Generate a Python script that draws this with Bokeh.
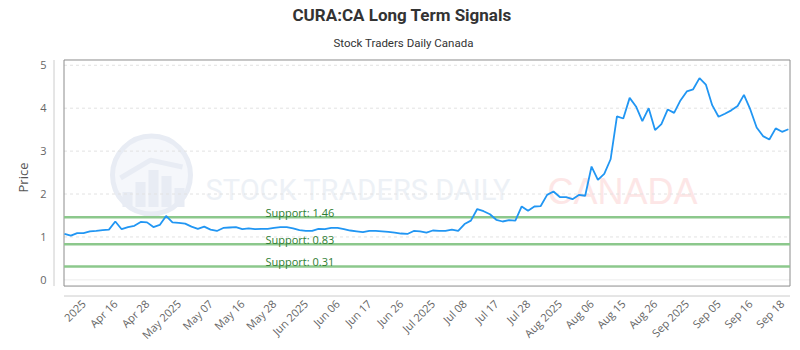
import math
from bokeh.plotting import figure
from bokeh.models import Range1d, FixedTicker, Title
from bokeh.core.properties import value
from bokeh.embed import file_html
from bokeh.resources import INLINE

# ---------------- data ----------------
title_text = "CURA:CA Long Term Signals"
subtitle_text = "Stock Traders Daily Canada"
y_axis_label = "Price"

prices = [
    1.07, 1.03, 1.09, 1.09, 1.13, 1.14, 1.16, 1.17, 1.36, 1.18,
    1.23, 1.26, 1.35, 1.34, 1.23, 1.28, 1.49, 1.34, 1.33, 1.31,
    1.24, 1.19, 1.24, 1.17, 1.14, 1.21, 1.22, 1.23, 1.18, 1.20,
    1.18, 1.19, 1.19, 1.21, 1.23, 1.23, 1.20, 1.16, 1.14, 1.14,
    1.19, 1.18, 1.21, 1.21, 1.18, 1.15, 1.13, 1.11, 1.14, 1.14,
    1.13, 1.12, 1.10, 1.08, 1.07, 1.14, 1.13, 1.10, 1.15, 1.14,
    1.14, 1.17, 1.14, 1.30, 1.38, 1.65, 1.60, 1.53, 1.40, 1.36,
    1.39, 1.38, 1.71, 1.61, 1.71, 1.72, 1.98, 2.06, 1.93, 1.93,
    1.88, 1.98, 1.96, 2.64, 2.33, 2.47, 2.81, 3.81, 3.76, 4.24,
    4.04, 3.70, 4.00, 3.49, 3.63, 3.97, 3.89, 4.18, 4.39, 4.44,
    4.70, 4.55, 4.07, 3.80, 3.87, 3.95, 4.05, 4.31, 3.97, 3.55,
    3.35, 3.27, 3.53, 3.45, 3.51,
]
day_index = list(range(len(prices)))

support_levels = [1.46, 0.83, 0.31]
support_labels = ["Support: 1.46", "Support: 0.83", "Support: 0.31"]

x_tick_labels = [
    "2025", "Apr 16", "Apr 28", "May 2025", "May 07", "May 16", "May 28",
    "Jun 2025", "Jun 06", "Jun 17", "Jun 26", "Jul 2025", "Jul 08", "Jul 17",
    "Jul 28", "Aug 2025", "Aug 06", "Aug 15", "Aug 26", "Sep 2025", "Sep 05",
    "Sep 16", "Sep 18",
]
x_tick_positions = list(range(3, len(prices), 5))
y_ticks = [0, 1, 2, 3, 4, 5]

# ---------------- geometry ----------------
W, H = 800, 350
FL, FR, FT, FB = 52, 792, 57, 298          # frame in canvas px
X0PX, DXPX = 64.0, 6.35                     # px of first point, px per point
Y0PX, DYPX = 280.3, 43.1                    # px of price 0, px per unit


def px2x(px):
    return (px - X0PX) / DXPX


def py2y(py):
    return (Y0PX - py) / DYPX


BOX_L, BOX_R, BOX_T, BOX_B = 63.5, 789.5, 59.5, 286.5

p = figure(
    width=W, height=H, output_backend="svg", toolbar_location=None,
    x_range=Range1d(px2x(FL), px2x(FR)), y_range=Range1d(py2y(FB), py2y(FT)),
    min_border_left=FL, min_border_right=W - FR,
    min_border_top=FT, min_border_bottom=H - FB,
)
p.outline_line_color = None
p.grid.visible = False
p.background_fill_color = "white"
p.border_fill_color = "white"

# ---------------- watermark ----------------
p.circle(x=[px2x(151)], y=[py2y(175)], radius=39, radius_units="screen",
         fill_color="#f5f7fb", line_color="#e8ecf4", line_width=5)
bar_cx = [127, 140, 153, 166, 179]
bar_top = [192, 182, 170, 176, 188]
p.quad(left=[px2x(c - 5) for c in bar_cx], right=[px2x(c + 5) for c in bar_cx],
       top=[py2y(t) for t in bar_top], bottom=[py2y(207)] * len(bar_cx),
       fill_color="#e8ecf4", line_color=None)
p.line(x=[px2x(120), px2x(150), px2x(182)], y=[py2y(178), py2y(160), py2y(167)],
       line_color="#e8ecf4", line_width=5)
p.text(x=[px2x(205)], y=[py2y(190)], text=["STOCK TRADERS DAILY"],
       text_font=value("Roboto"), text_font_size="29px",
       text_color="#edf1f6", text_baseline="alphabetic", text_align="left")
p.text(x=[px2x(547)], y=[py2y(192)], text=["CANADA"],
       text_font=value("Liberation Sans"), text_font_size="36px",
       text_color="#fde6e6", text_baseline="alphabetic", text_align="left")

# ---------------- grid / frame ----------------
p.segment(x0=[px2x(BOX_L)] * (len(y_ticks) - 1), x1=[px2x(BOX_R)] * (len(y_ticks) - 1),
          y0=y_ticks[1:], y1=y_ticks[1:], line_color="#e2e2e2", line_width=1,
          line_dash="3 3")
p.segment(x0=[px2x(BOX_L)], x1=[px2x(BOX_R)], y0=y_ticks[:1], y1=y_ticks[:1],
          line_color="#ececec", line_width=1)
p.quad(left=[px2x(BOX_L)], right=[px2x(BOX_R)], top=[py2y(BOX_T)], bottom=[py2y(BOX_B)],
       fill_color=None, line_color="#8c8c8c", line_width=1)
# detached axis lines
p.segment(x0=[px2x(53.5)], x1=[px2x(53.5)], y0=[py2y(BOX_T)], y1=[py2y(BOX_B)],
          line_color="#cccccc", line_width=1)
p.segment(x0=[px2x(BOX_L)], x1=[px2x(BOX_R)], y0=[py2y(296.5)], y1=[py2y(296.5)],
          line_color="#cccccc", line_width=1)

# ---------------- support lines ----------------
p.segment(x0=[px2x(BOX_L)] * 3, x1=[px2x(BOX_R)] * 3, y0=support_levels, y1=support_levels,
          line_color="#8cc88c", line_width=2.5)
p.text(x=[px2x(265)] * 3, y=support_levels, text=support_labels, y_offset=-5,
       text_font=value("Open Sans"), text_font_size="11px", text_color="#2e7d32",
       text_baseline="alphabetic", text_align="left")

# ---------------- price line ----------------
p.line(day_index, prices, line_color="#2196f3", line_width=1.8)

# ---------------- axes ----------------
for ax in (p.xaxis, p.yaxis):
    ax.axis_line_color = None
    ax.major_tick_line_color = None
    ax.minor_tick_line_color = None
    ax.major_tick_out = 0
    ax.major_tick_in = 0
    ax.major_label_text_font = "Open Sans"
    ax.major_label_text_font_size = "11px"
    ax.major_label_text_color = "#666666"

p.yaxis.ticker = FixedTicker(ticks=y_ticks)
p.yaxis.major_label_standoff = 6
p.yaxis.axis_label = y_axis_label
p.yaxis.axis_label_standoff = 5
p.yaxis.axis_label_text_font = "Open Sans"
p.yaxis.axis_label_text_font_size = "13px"
p.yaxis.axis_label_text_font_style = "normal"
p.yaxis.axis_label_text_color = "#555555"

p.xaxis.ticker = FixedTicker(ticks=x_tick_positions)
p.xaxis.major_label_overrides = {t: lab for t, lab in zip(x_tick_positions, x_tick_labels)}
p.xaxis.major_label_orientation = math.pi / 4
p.xaxis.major_label_standoff = 4

# ---------------- titles ----------------
p.add_layout(Title(text=subtitle_text, align="left", offset=281, standoff=16,
                   text_font="Roboto", text_font_size="11.5px", text_font_style="normal",
                   text_color="#333333"), "above")
p.add_layout(Title(text=title_text, align="left", offset=240, standoff=2,
                   text_font="Roboto", text_font_size="17px", text_font_style="bold",
                   text_color="#333333"), "above")

open("out.html", "w").write(file_html(p, INLINE))
